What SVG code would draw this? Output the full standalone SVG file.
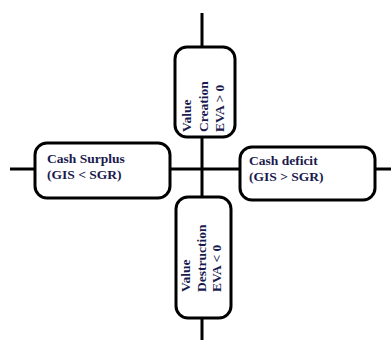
<svg xmlns="http://www.w3.org/2000/svg" width="391" height="340" viewBox="0 0 391 340">
<style>
.ln{stroke:#000;stroke-width:3;fill:none}
.box{fill:#fff;stroke:#000;stroke-width:3}
.t{font-family:"Liberation Serif","Times New Roman",serif;font-weight:bold;font-size:13.5px;fill:#1a1a4e}
</style>
<rect width="391" height="340" fill="#fff"/>
<g id="connectors">
<line class="ln" x1="202" y1="13" x2="202" y2="340"/>
<line class="ln" x1="10" y1="169" x2="391" y2="169"/>
</g>
<g id="value-creation">
<rect class="box" x="175" y="47" width="60" height="90" rx="12"/>
<text class="t" transform="translate(191,132) rotate(-90)"><tspan x="0" y="0">Value</tspan><tspan x="0" dy="16.5">Creation</tspan><tspan x="0" dy="16.5">EVA &gt; 0</tspan></text>
</g>
<g id="cash-surplus">
<rect class="box" x="35" y="143" width="135" height="55" rx="12"/>
<text class="t"><tspan x="47" y="163">Cash Surplus</tspan><tspan x="47" y="179">(GIS &lt; SGR)</tspan></text>
</g>
<g id="cash-deficit">
<rect class="box" x="240" y="147" width="135" height="53" rx="12"/>
<text class="t"><tspan x="249" y="165">Cash deficit</tspan><tspan x="249" y="181">(GIS &gt; SGR)</tspan></text>
</g>
<g id="value-destruction">
<rect class="box" x="176" y="197" width="55" height="121" rx="12"/>
<text class="t" transform="translate(190,292) rotate(-90)"><tspan x="0" y="0">Value</tspan><tspan x="0" dy="15.5">Destruction</tspan><tspan x="0" dy="15.5">EVA &lt; 0</tspan></text>
</g>
</svg>
